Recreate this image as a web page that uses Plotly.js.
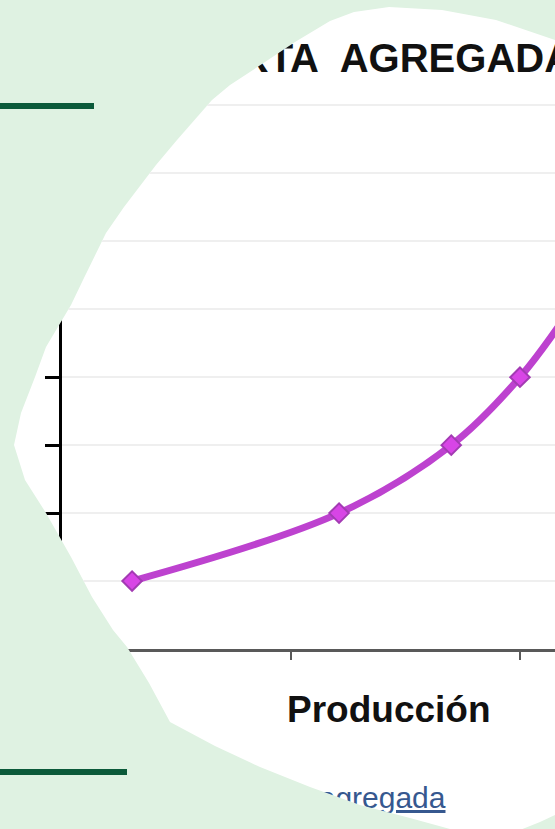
<!DOCTYPE html>
<html>
<head>
<meta charset="utf-8">
<script src="https://cdn.plot.ly/plotly-3.0.1.min.js"></script>
<style>
  html, body { margin:0; padding:0; width:555px; height:829px; overflow:hidden; background:#dff2e2; }
  #blob { position:absolute; left:0; top:0; width:555px; height:829px;
    clip-path: path('M 14 445 L 21 413 L 35 377 L 46 347 L 71 305 L 83 280 L 106 233 L 124 207 L 156 165 L 177 140 L 212 100 L 230 85 L 253 70 L 268 60 L 295 42 L 330 21 L 354 12 L 389 7 L 442 10 L 496 20 L 555 40 L 600 60 L 600 800 L 555 815 L 540 822 L 520 830 L 480 836 L 450 829 L 410 818 L 360 805 L 310 787 L 260 767 L 215 746 L 170 722 L 149 683 L 127 647 L 113 630 L 92 597 L 71 557 L 46 513 L 25 480 Z'); }
  .bar { position:absolute; left:0; background:#0b5a3a; }
</style>
</head>
<body>
<div id="blob"></div>
<div class="bar" style="top:103px;width:94px;height:6px;"></div>
<div class="bar" style="top:769px;width:127px;height:6px;"></div>
<script>
// Data
const produccion = [3.06, 12.1, 17.0, 20.0, 22.2];
const precio = [1, 2, 3, 4, 5];
const chartTitle = 'OFERTA&nbsp; AGREGADA';
const xTitle = 'Producción';
const linkText = 'Oferta agregada';

const trace = {
  x: produccion, y: precio, type: 'scatter', mode: 'lines+markers',
  line: { color: '#bd42cf', width: 7, shape: 'spline' },
  marker: { symbol: 'diamond', size: 15, color: '#d845e6', line: { color: '#a33bb3', width: 2 } },
  hoverinfo: 'skip'
};

const layout = {
  width: 555, height: 829,
  margin: { l: 62, r: 0, t: 85, b: 180 },
  paper_bgcolor: '#ffffff', plot_bgcolor: '#ffffff',
  showlegend: false,
  title: { text: '<b>' + chartTitle + '</b>', font: { family: 'Liberation Sans', size: 40, color: '#111111' },
    x: 0.6582, xref: 'container', xanchor: 'center', y: 0.930, yref: 'container', yanchor: 'middle' },
  xaxis: { range: [0, 21.53], dtick: 10, tick0: 0, showgrid: false, zeroline: false,
    showline: true, linecolor: '#595959', linewidth: 3,
    ticks: 'outside', ticklen: 8, tickwidth: 2, tickcolor: '#595959', showticklabels: false, fixedrange: true },
  yaxis: { range: [0, 8.3], dtick: 1, tick0: 0, showgrid: true, gridcolor: '#efefef', gridwidth: 2, zeroline: false,
    showline: true, linecolor: '#000000', linewidth: 3,
    ticks: 'outside', ticklen: 14, tickwidth: 3, tickcolor: '#000000', showticklabels: false, fixedrange: true },
  annotations: [
    { text: '<b>' + xTitle + '</b>', xref: 'paper', yref: 'paper', x: 0.664, y: -0.108,
      xanchor: 'center', yanchor: 'middle', showarrow: false,
      font: { family: 'Liberation Sans', size: 37, color: '#111111' } },
    { text: '<u>' + linkText + '</u>', xref: 'paper', yref: 'paper', x: 0.783, y: -0.263,
      xanchor: 'right', yanchor: 'middle', showarrow: false,
      font: { family: 'Liberation Sans', size: 30, color: '#36588f' } }
  ]
};

Plotly.newPlot('blob', [trace], layout, { displayModeBar: false, staticPlot: true });
</script>
</body>
</html>
